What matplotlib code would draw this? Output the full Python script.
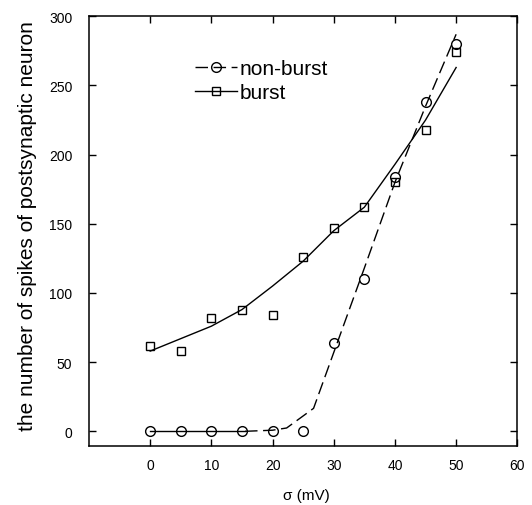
import numpy as np
import matplotlib.pyplot as plt
from matplotlib.lines import Line2D

plt.rcParams['font.family'] = ['Liberation Sans', 'DejaVu Sans']

# measured points
sigma = [0, 5, 10, 15, 20, 25, 30, 35, 40, 45, 50]
nonburst = [0, 0, 0, 0, 0, 0, 64, 110, 184, 238, 280]
burst = [62, 58, 82, 88, 84, 126, 147, 162, 180, 218, 274]

# fitted curves
fit_b_x = [0, 5, 10, 15, 20, 25, 30, 35, 40, 45, 50]
fit_b_y = [58, 67, 76, 88, 105, 123, 145, 162, 193, 225, 263]
fit_nb_solid_x = [0, 15.5]
fit_nb_solid_y = [0, 0]
fit_nb_x = [15.5, 20, 22.3, 26.7, 30, 35, 40, 45, 50]
fit_nb_y = [0, 0.8, 2.4, 16.6, 57, 118, 180, 235, 287]

xticks = [0, 10, 20, 30, 40, 50, 60]
yticks = [0, 50, 100, 150, 200, 250, 300]

fig = plt.figure(figsize=(5.32, 5.06), dpi=100)
ax = fig.add_axes([0.1673, 0.1172, 0.8051, 0.8486])

dash = (0, (9, 4))
ax.plot(fit_b_x, fit_b_y, color='black', lw=1.0)
ax.plot(fit_nb_solid_x, fit_nb_solid_y, color='black', lw=1.0)
ax.plot(fit_nb_x, fit_nb_y, color='black', lw=1.0, linestyle=dash)
ax.plot(sigma, nonburst, linestyle='none', marker='o', ms=7, mfc='none',
        mec='black', mew=1.0)
ax.plot(sigma, burst, linestyle='none', marker='s', ms=6, mfc='none',
        mec='black', mew=1.0)

ax.set_xlim(-10, 60)
ax.set_ylim(-10.4, 300)
ax.set_xticks(xticks)
ax.set_yticks(yticks)
ax.tick_params(axis='both', direction='in', length=5, width=1.0,
               top=True, right=True, labelsize=10)
ax.tick_params(axis='x', pad=9)
ax.tick_params(axis='y', pad=12)
for s in ax.spines.values():
    s.set_linewidth(1.1)

h1 = Line2D([], [], color='black', lw=1.0, linestyle=dash, marker='o', ms=7,
            mfc='none', mec='black', mew=1.0)
h2 = Line2D([], [], color='black', lw=1.0, marker='s', ms=6, mfc='none',
            mec='black', mew=1.0)
ax.legend([h1, h2], ['non-burst', 'burst'], loc='upper left',
          bbox_to_anchor=(0.2475, 0.90), frameon=False, fontsize=15,
          borderpad=0, borderaxespad=0, handlelength=2.0, handletextpad=0.15,
          labelspacing=0.25)

fig.text(27.5 / 532, 1 - 226 / 506, 'the number of spikes of postsynaptic neuron',
         rotation=90, ha='center', va='center', fontsize=15)
fig.text(306.7 / 532, 1 - 496 / 506, 'σ (mV)', ha='center', va='center',
         fontsize=11)

fig.savefig('out.png', dpi=100)
